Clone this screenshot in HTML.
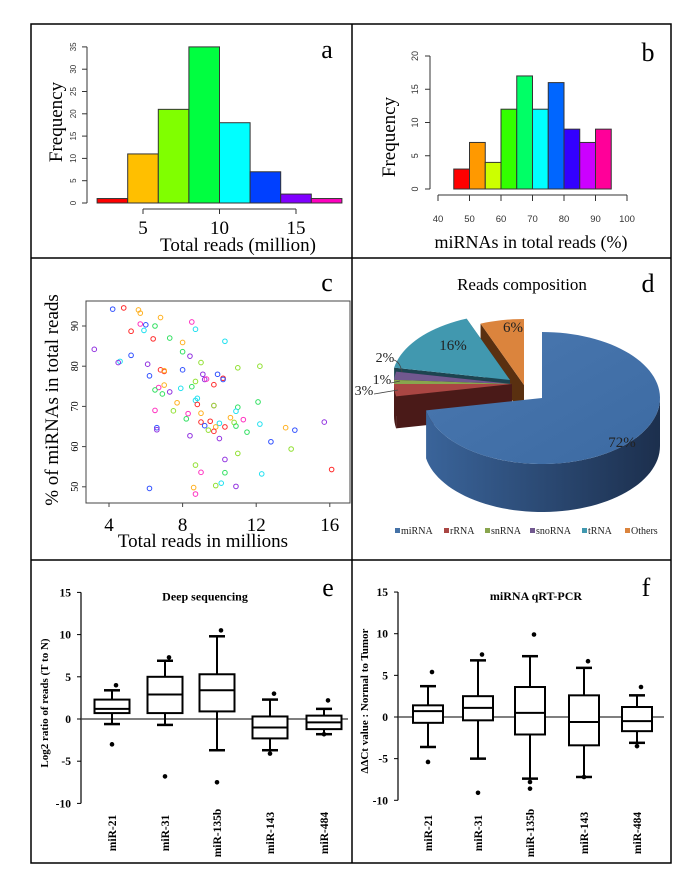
<!DOCTYPE html>
<html><head><meta charset="utf-8"><style>
html,body{margin:0;padding:0;background:#fff;}
svg{display:block;font-family:"Liberation Serif",serif;}
</style></head><body>
<svg id="fig" width="700" height="874" viewBox="0 0 700 874" xmlns="http://www.w3.org/2000/svg">
<defs>
<linearGradient id="mainSide" x1="0" x2="1" y1="0" y2="0"><stop offset="0" stop-color="#3a649a"/><stop offset="1" stop-color="#1c2f4d"/></linearGradient>
<linearGradient id="mainTop" x1="0" x2="1" y1="0" y2="1"><stop offset="0" stop-color="#4a78b0"/><stop offset="1" stop-color="#3c6aa2"/></linearGradient>
</defs>
<g fill="none" stroke="#000" stroke-width="1.5">
<rect x="31" y="24" width="640" height="839"/>
<line x1="352" y1="24" x2="352" y2="863"/>
<line x1="31" y1="258" x2="671" y2="258"/>
<line x1="31" y1="560" x2="671" y2="560"/>
</g>
<g id="pa"></g>
<g id="pb"></g>
<g id="pc"></g>
<g id="pd"></g>
<g id="pe"></g>
<g id="pf"></g>
</svg>
<script>
// ---- data ----
const aEdges = [2,4,6,8,10,12,14,16,18];
const aCounts = [1,11,21,35,18,7,2,1];
const aColors = ["#ff0000","#ffbf00","#80ff00","#00ff40","#00ffff","#0040ff","#8000ff","#ff00bf"];
const aXTicks = [5,10,15];
const aYTicks = [0,5,10,15,20,25,30,35];

const bEdges = [45,50,55,60,65,70,75,80,85,90,95];
const bCounts = [3,7,4,12,17,12,16,9,7,9];
const bColors = ["#ff0000","#ff9900","#ccff00","#33ff00","#00ff66","#00ffff","#0066ff","#3300ff","#cc00ff","#ff0099"];
const bXTicks = [40,50,60,70,80,90,100];
const bYTicks = [0,5,10,15,20];

const cX = [4.2,4.8,5.6,5.7,5.7,6.0,5.9,5.2,6.5,6.8,6.4,7.3,8.5,8.7,10.3,8.0,8.0,8.4,3.2,5.2,4.6,4.5,6.1,9.0,6.2,6.8,7.0,7.0,8.0,9.1,9.2,9.3,9.9,10.2,10.2,11.0,12.2,8.7,7.0,6.7,6.5,7.3,6.9,7.9,8.5,9.7,8.7,8.8,7.7,8.8,9.7,9.7,6.5,7.5,12.1,11.0,10.9,8.3,9.0,8.2,10.6,11.3,9.5,9.0,10.8,10.0,9.2,9.8,10.3,10.9,12.2,13.6,14.1,15.7,6.6,6.6,9.4,9.7,11.5,8.4,10.0,12.8,13.9,10.3,11.0,8.7,9.0,10.3,12.3,16.1,6.2,8.6,8.7,9.8,10.1,10.9];
const cY = [94.2,94.5,94.0,93.2,90.5,90.3,88.9,88.7,90.0,92.1,86.8,87.0,91.0,89.2,86.2,85.9,83.6,82.5,84.2,82.7,81.2,80.9,80.5,80.9,77.6,79.1,78.7,78.9,79.1,78.0,76.7,76.8,78.0,77.0,76.7,79.6,80.0,76.2,75.3,74.7,74.1,73.6,73.1,74.5,74.9,75.4,71.5,72.0,70.9,70.5,70.2,70.2,69.0,68.9,71.1,69.8,68.8,68.2,68.3,66.9,67.2,66.7,66.3,66.1,66.0,65.8,65.2,64.9,64.9,65.1,65.6,64.7,64.1,66.1,64.7,64.2,64.1,63.8,63.6,62.7,62.0,61.2,59.4,56.8,58.3,55.4,53.6,53.5,53.2,54.3,49.6,49.8,48.2,50.3,50.9,50.1];
const cCol = ["b","r","o","o","m","b","c","r","g","o","r","g","m","c","c","o","g","v","v","b","c","v","v","y","b","r","r","o","b","v","v","m","b","r","b","y","y","y","o","m","g","v","g","c","g","r","c","c","o","r","m","y","m","y","g","g","c","m","o","g","o","m","r","r","y","c","b","o","r","g","c","o","b","v","b","v","y","r","g","v","v","b","y","v","y","y","m","g","c","r","b","o","m","y","c","v"];
const cXTicks = [4,8,12,16];
const cYTicks = [50,60,70,80,90];

const dLabels = ["miRNA","rRNA","snRNA","snoRNA","tRNA","Others"];
const dValues = [72,3,1,2,16,6];

const eCats = ["miR-21","miR-31","miR-135b","miR-143","miR-484"];
const eQ1 = [0.7,0.7,0.9,-2.3,-1.2];
const eMed = [1.2,2.9,3.4,-1.0,-0.4];
const eQ3 = [2.3,5.0,5.3,0.3,0.4];
const eLo = [-0.6,-0.7,-3.7,-3.7,-1.8];
const eHi = [3.4,6.9,9.8,2.3,1.2];
const eOut = [[4.0,-3.0],[7.3,-6.8],[10.5,-7.5],[3.0,-4.1],[2.2,-1.8]];

const fQ1 = [-0.7,-0.4,-2.1,-3.4,-1.7];
const fMed = [0.7,1.1,0.5,-0.6,-0.5];
const fQ3 = [1.4,2.5,3.6,2.6,1.2];
const fLo = [-3.6,-5.0,-7.4,-7.2,-3.1];
const fHi = [3.7,6.8,7.3,5.9,2.6];
const fOut = [[5.4,-5.4],[7.5,-9.1],[9.9,-8.6,-7.8],[6.7,-7.2],[3.6,-3.5]];
const boxTicks = [-10,-5,0,5,10,15];

const NS="http://www.w3.org/2000/svg";
function mk(tag, attrs, parent, txt){const e=document.createElementNS(NS,tag);for(const k in attrs)e.setAttribute(k,attrs[k]);if(txt!==undefined)e.textContent=txt;parent.appendChild(e);return e;}
let n;

// ---- panel a ----
const pa=document.getElementById('pa');
const xa=v=>143+(v-5)*15.3, ya=c=>203-c*4.46;
aCounts.forEach((c,i)=>{
 n=mk('rect',{x:xa(aEdges[i]),y:ya(c),width:xa(aEdges[i+1])-xa(aEdges[i]),height:ya(0)-ya(c),fill:aColors[i],stroke:"#333","stroke-width":1},pa);
 
 
});
n=mk('line',{x1:87,y1:ya(0),x2:87,y2:ya(35),stroke:"#333"},pa);


aYTicks.forEach(t=>{
 n=mk('line',{x1:82,y1:ya(t),x2:87,y2:ya(t),stroke:"#333"},pa);
 
 
 n=mk('text',{x:0,y:0,transform:`translate(76,${ya(t)}) rotate(-90)`,"text-anchor":"middle","font-family":"Liberation Sans, sans-serif","font-size":8,fill:"#333"},pa,String(t));
 
 
});
n=mk('line',{x1:xa(5),y1:209,x2:xa(15),y2:209,stroke:"#333"},pa);


aXTicks.forEach(t=>{
 n=mk('line',{x1:xa(t),y1:209,x2:xa(t),y2:214,stroke:"#333"},pa);
 
 
 n=mk('text',{x:xa(t),y:234,"text-anchor":"middle","font-size":19},pa,String(t));
 
 
});
n=mk('text',{x:238,y:251,"text-anchor":"middle","font-size":19},pa,"Total reads (million)");


n=mk('text',{x:0,y:0,transform:"translate(62,122) rotate(-90)","text-anchor":"middle","font-size":19},pa,"Frequency");


n=mk('text',{x:327,y:58,"text-anchor":"middle","font-size":26},pa,"a");



// ---- panel b ----
const pb=document.getElementById('pb');
const xb=v=>438+(v-40)*3.15, yb=c=>189-c*6.65;
bCounts.forEach((c,i)=>{
 n=mk('rect',{x:xb(bEdges[i]),y:yb(c),width:xb(bEdges[i+1])-xb(bEdges[i]),height:yb(0)-yb(c),fill:bColors[i],stroke:"#333","stroke-width":1},pb);
 
 
});
n=mk('line',{x1:430,y1:yb(0),x2:430,y2:yb(20),stroke:"#333"},pb);


bYTicks.forEach(t=>{
 n=mk('line',{x1:425,y1:yb(t),x2:430,y2:yb(t),stroke:"#333"},pb);
 
 
 n=mk('text',{x:0,y:0,transform:`translate(418,${yb(t)}) rotate(-90)`,"text-anchor":"middle","font-family":"Liberation Sans, sans-serif","font-size":9,fill:"#333"},pb,String(t));
 
 
});
n=mk('line',{x1:xb(40),y1:195,x2:xb(100),y2:195,stroke:"#333"},pb);


bXTicks.forEach(t=>{
 n=mk('line',{x1:xb(t),y1:195,x2:xb(t),y2:201,stroke:"#333"},pb);
 
 
 n=mk('text',{x:xb(t),y:222,"text-anchor":"middle","font-family":"Liberation Sans, sans-serif","font-size":9.5,fill:"#333"},pb,String(t));
 
 
});
n=mk('text',{x:531,y:248,"text-anchor":"middle","font-size":18},pb,"miRNAs in total reads (%)");


n=mk('text',{x:0,y:0,transform:"translate(395,137) rotate(-90)","text-anchor":"middle","font-size":19},pb,"Frequency");


n=mk('text',{x:648,y:61,"text-anchor":"middle","font-size":26},pb,"b");



// ---- panel c ----
const pc=document.getElementById('pc');
const xc=v=>109+(v-4)*18.4, yc=v=>326-(v-90)*4.02;
const cMap={r:"#ff2a2a",o:"#ffb020",y:"#90e030",g:"#30e060",c:"#20e0f0",b:"#3050ff",v:"#9030e0",m:"#ff30c0"};
n=mk('rect',{x:86,y:301,width:264,height:202,fill:"none",stroke:"#444","stroke-width":1},pc);


cX.forEach((v,i)=>{
 n=mk('circle',{cx:xc(v),cy:yc(cY[i]),r:2.3,fill:"none",stroke:cMap[cCol[i]],"stroke-width":1},pc);
 
 
});
cXTicks.forEach(t=>{
 n=mk('line',{x1:xc(t),y1:503,x2:xc(t),y2:507,stroke:"#444"},pc);
 
 
 n=mk('text',{x:xc(t),y:531,"text-anchor":"middle","font-size":19},pc,String(t));
 
 
});
cYTicks.forEach(t=>{
 n=mk('line',{x1:82,y1:yc(t),x2:86,y2:yc(t),stroke:"#444"},pc);
 
 
 n=mk('text',{x:0,y:0,transform:`translate(78,${yc(t)}) rotate(-90)`,"text-anchor":"middle","font-size":10},pc,String(t));
 
 
});
n=mk('text',{x:203,y:547,"text-anchor":"middle","font-size":19},pc,"Total reads in millions");


n=mk('text',{x:0,y:0,transform:"translate(58,400) rotate(-90)","text-anchor":"middle","font-size":19},pc,"% of miRNAs in total reads");


n=mk('text',{x:327,y:291,"text-anchor":"middle","font-size":26},pc,"c");



// ---- panel d ----
const pd=document.getElementById('pd');
n=mk('text',{x:522,y:290,"text-anchor":"middle","font-size":17},pd,"Reads composition");


n=mk('text',{x:648,y:292,"text-anchor":"middle","font-size":26},pd,"d");


const topC=["url(#mainTop)","#aa4643","#89a54e","#71588f","#4198af","#db843d"];
const sideC=["url(#mainSide)","#4a1a18","#3e4d22","#33264a","#1d4450","#5a3010"];
const offs=[[0,0],[-30,-14],[-30,-14],[-30,-14],[-32,-18],[-18,-13]];
const CX=542,CY=398,RX=118,RY=66,D=48;
const tot=dValues.reduce((a,b)=>a+b,0);
let acc=0;const ang=[];
dValues.forEach(v=>{ang.push([acc/tot*360,(acc+v)/tot*360]);acc+=v;});
function P(cx,cy,t,dy){const r=t*Math.PI/180;return [cx+RX*Math.sin(r),cy-RY*Math.cos(r)+(dy||0)];}
function arcPts(cx,cy,a1,a2,dy){const pts=[];const N=Math.max(4,Math.ceil((a2-a1)/3));for(let k=0;k<=N;k++)pts.push(P(cx,cy,a1+(a2-a1)*k/N,dy));return pts;}
const order=[5,4,3,2,1,0];
order.forEach(i=>{
 const cx=CX+offs[i][0], cy=CY+offs[i][1];const [a1,a2]=ang[i];
 const dd = i===0?D:32;
 if(i!==0){[a1,a2].forEach(a=>{const p=P(cx,cy,a);
  n=mk('polygon',{points:`${cx},${cy} ${p[0]},${p[1]} ${p[0]},${p[1]+dd} ${cx},${cy+dd}`,fill:sideC[i]},pd);
  
  });}
 const s=Math.max(a1,90), e=Math.min(a2,270);
 if(e>s){const top=arcPts(cx,cy,s,e,0), bot=arcPts(cx,cy,s,e,dd).reverse();
  n=mk('polygon',{points:top.concat(bot).map(p=>p.join(',')).join(' '),fill:sideC[i]},pd);
  
  }
 const pts=[[cx,cy]].concat(arcPts(cx,cy,a1,a2,0));
 n=mk('polygon',{points:pts.map(p=>p.join(',')).join(' '),fill:topC[i]},pd);
 
 
});
const pl=[[622,447,"72%"],[453,350,"16%"],[513,332,"6%"]];
pl.forEach(l=>{n=mk('text',{x:l[0],y:l[1],"text-anchor":"middle","font-size":15,fill:"#222"},pd,l[2]);
 
 });
const sl=[[385,362,"2%","M394,360 Q400,362 402,372"],[382,384,"1%","M391,383 L400,381"],[364,395,"3%","M374,394 L398,390"]];
sl.forEach(l=>{n=mk('text',{x:l[0],y:l[1],"text-anchor":"middle","font-size":14,fill:"#222"},pd,l[2]);
 
 
 n=mk('path',{d:l[3],fill:"none",stroke:"#444","stroke-width":0.8},pd);
 
 });
const lgX=[403,452,493,538,590,633];
const lgC=["#4572a7","#aa4643","#89a54e","#71588f","#4198af","#db843d"];
dLabels.forEach((l,i)=>{
 n=mk('rect',{x:lgX[i]-8,y:528,width:5,height:5,fill:lgC[i]},pd);
 
 
 n=mk('text',{x:lgX[i]-2,y:534,"font-size":10,fill:"#222"},pd,l);
 
 
});

// ---- box plots ----
function boxPanel(g,ax,x0,x1,y0,ys,cats,xs,bw,Q1,MED,Q3,LO,HI,OUT,title,tx,ylab,yx,letter,lx){
 const y=v=>y0-v*ys;
 n=mk('line',{x1:ax,y1:y(15),x2:ax,y2:y(-10),stroke:"#000","stroke-width":1.2},g);
 
 
 boxTicks.forEach(t=>{
  n=mk('line',{x1:ax-4,y1:y(t),x2:ax,y2:y(t),stroke:"#000"},g);
  
  
  n=mk('text',{x:ax-10,y:y(t)+4,"text-anchor":"end","font-size":11.5,"font-weight":"bold"},g,String(t));
  
  
 });
 n=mk('line',{x1:ax,y1:y(0),x2:x1,y2:y(0),stroke:"#333","stroke-width":1.2},g);
 
 
 cats.forEach((c,i)=>{
  const cx=xs[i];
  n=mk('line',{x1:cx,y1:y(HI[i]),x2:cx,y2:y(Q3[i]),stroke:"#000","stroke-width":2},g);
  
  
  n=mk('line',{x1:cx,y1:y(LO[i]),x2:cx,y2:y(Q1[i]),stroke:"#000","stroke-width":2},g);
  
  
  [HI[i],LO[i]].forEach(v=>{n=mk('line',{x1:cx-8,y1:y(v),x2:cx+8,y2:y(v),stroke:"#000","stroke-width":2.5},g);
   
   });
  n=mk('rect',{x:cx-bw/2,y:y(Q3[i]),width:bw,height:y(Q1[i])-y(Q3[i]),fill:"#fff",stroke:"#000","stroke-width":2},g);
  
  
  n=mk('line',{x1:cx-bw/2,y1:y(MED[i]),x2:cx+bw/2,y2:y(MED[i]),stroke:"#000","stroke-width":2},g);
  
  
  OUT[i].forEach((v,k)=>{n=mk('circle',{cx:cx+(v>0?4:0),cy:y(v),r:2.3,fill:"#000"},g);
   
   });
  n=mk('text',{x:0,y:0,transform:`translate(${cx+4},833) rotate(-90)`,"text-anchor":"middle","font-size":11.5,"font-weight":"bold"},g,c);
  
  
 });
 n=mk('text',{x:tx,y:y(15)+8,"text-anchor":"middle","font-size":12,"font-weight":"bold"},g,title);
 
 
 n=mk('text',{x:0,y:0,transform:`translate(${yx},${y(0)-16}) rotate(-90)`,"text-anchor":"middle","font-size":11,"font-weight":"bold"},g,ylab);
 
 
 n=mk('text',{x:lx,y:596,"text-anchor":"middle","font-size":26},g,letter);
 
 
}
boxPanel(document.getElementById('pe'),81,81,348,719,8.44,eCats,[112,165,217,270,324],35,eQ1,eMed,eQ3,eLo,eHi,eOut,"Deep sequencing",205,"Log2 ratio of reads (T to N)",48,"e",328);
boxPanel(document.getElementById('pf'),398,398,664,717,8.33,eCats,[428,478,530,584,637],30,fQ1,fMed,fQ3,fLo,fHi,fOut,"miRNA qRT-PCR",536,"ΔΔCt  value : Normal to Tumor",368,"f",646);
</script>
</body></html>
